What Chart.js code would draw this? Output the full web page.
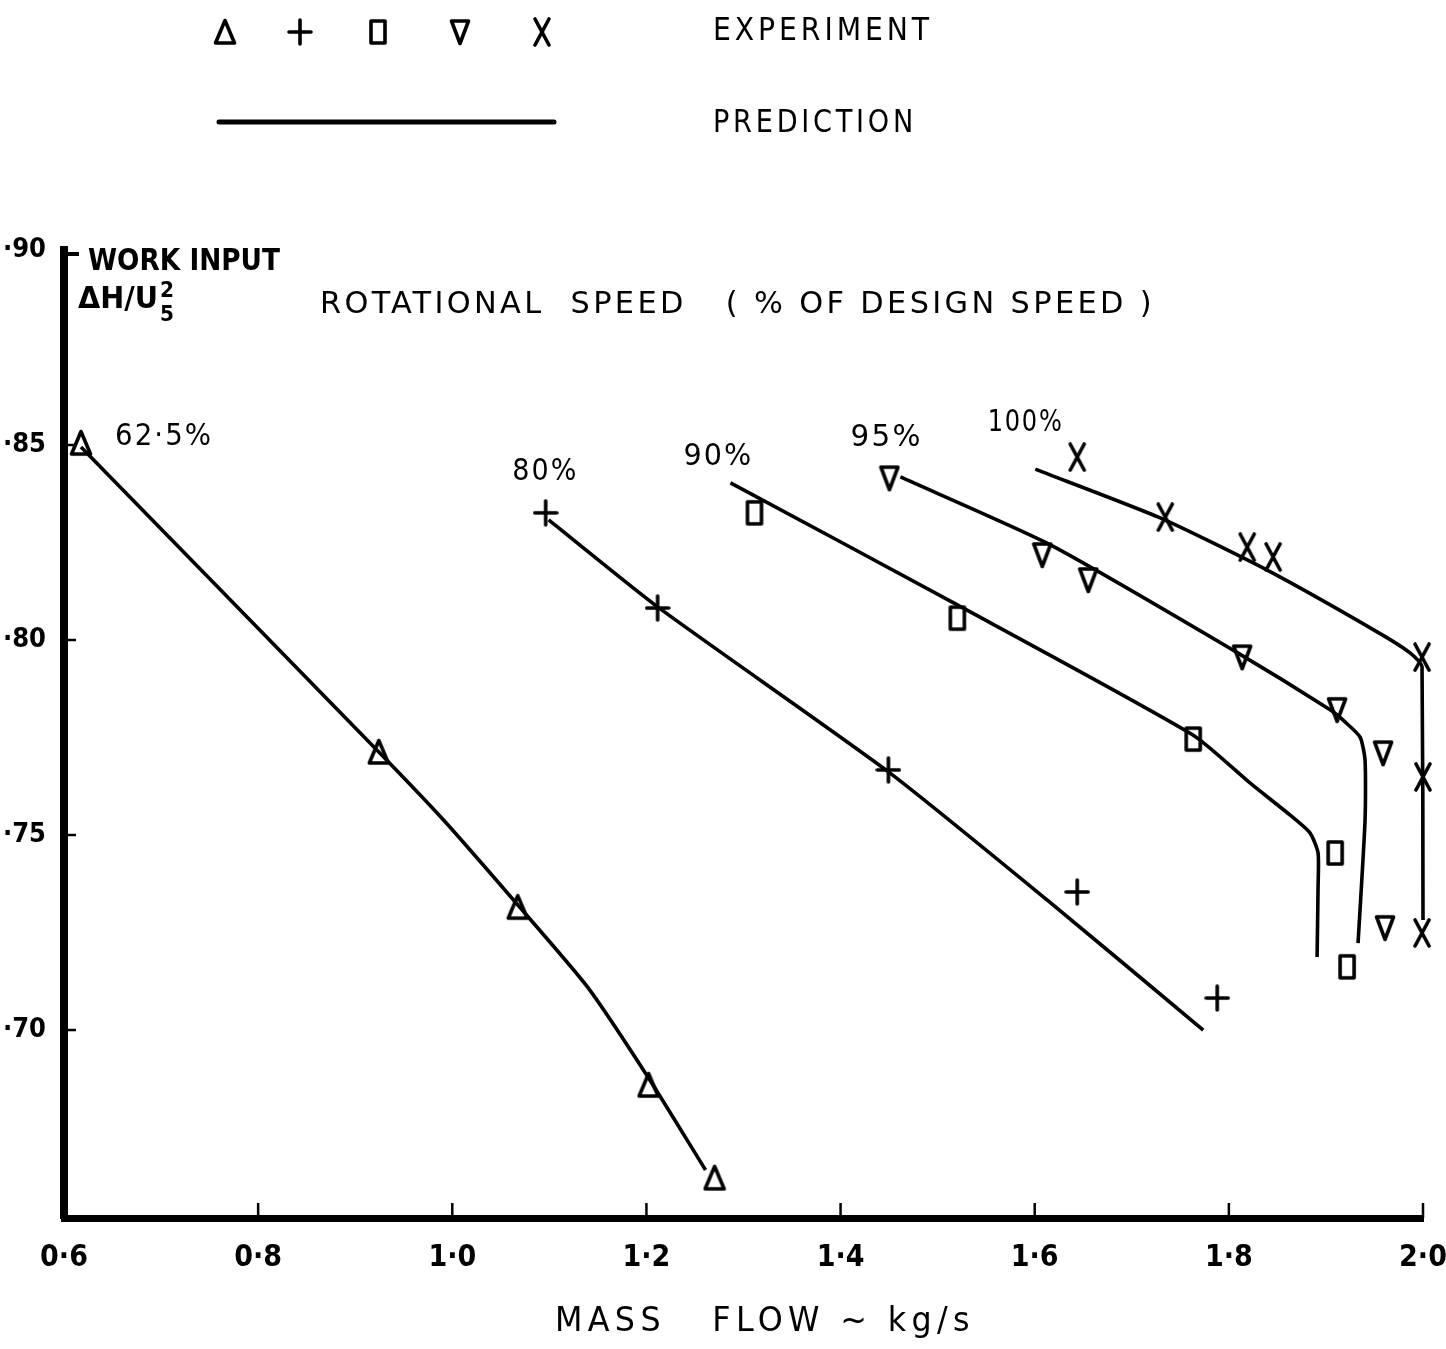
<!DOCTYPE html>
<html>
<head>
<meta charset="utf-8">
<script src="https://cdn.jsdelivr.net/npm/chart.js@4.4.1/dist/chart.umd.min.js"></script>
<style>
  body { margin: 0; background: #fff; }
  #c { display: block; }
</style>
</head>
<body>
<canvas id="c" width="1446" height="1349"></canvas>
<script>
// values (mass flow kg/s , work input dH/U5^2)
const speeds = ['62·5%', '80%', '90%', '95%', '100%']
const xTicks = [0.6, 0.8, 1.0, 1.2, 1.4, 1.6, 1.8, 2.0]
const yTicks = [0.70, 0.75, 0.80, 0.85, 0.90]

// experiment points
const exp62x = [0.6175, 0.9243, 1.0674, 1.2022, 1.2702]
const exp62y = [0.8505, 0.7713, 0.7315, 0.6859, 0.6621]
const exp80x = [1.0962, 1.2115, 1.4493, 1.6438, 1.7880]
const exp80y = [0.8326, 0.8082, 0.7667, 0.7354, 0.7082]
const exp90x = [1.3113, 1.5203, 1.7633, 1.9095, 1.9218]
const exp90y = [0.8326, 0.8056, 0.7746, 0.7454, 0.7162]
const exp95x = [1.4503, 1.6078, 1.6552, 1.8137, 1.9115, 1.9589, 1.9609]
const exp95y = [0.8415, 0.8218, 0.8154, 0.7956, 0.7821, 0.7710, 0.7262]
const exp100x = [1.6438, 1.7345, 1.8189, 1.8456, 1.9990, 2.0000, 1.9990]
const exp100y = [0.8469, 0.8315, 0.8238, 0.8213, 0.7956, 0.7649, 0.7249]

// prediction curves
const pred62x = [0.6175, 0.9243, 0.9912, 1.0674, 1.1394, 1.2022, 1.2609]
const pred62y = [0.8495, 0.7713, 0.7538, 0.7321, 0.7110, 0.6877, 0.6641]
const pred80x = [1.0993, 1.2115, 1.4493, 1.6130, 1.7736]
const pred80y = [0.8308, 0.8085, 0.7662, 0.7333, 0.7000]
const pred90x = [1.2866, 1.5203, 1.7633, 1.8220, 1.8631, 1.8837, 1.8919, 1.8919, 1.8909]
const pred90y = [0.8403, 0.8090, 0.7756, 0.7633, 0.7551, 0.7505, 0.7454, 0.7367, 0.7187]
const pred95x = [1.4616, 1.6161, 1.8044, 1.9043, 1.9197, 1.9352, 1.9403, 1.9403, 1.9331]
const pred95y = [0.8418, 0.8244, 0.7974, 0.7821, 0.7790, 0.7751, 0.7692, 0.7538, 0.7223]
const pred100x = [1.6006, 1.7293, 1.8395, 1.9527, 1.9867, 1.9990, 2.0000]
const pred100y = [0.8438, 0.8313, 0.8179, 0.8021, 0.7967, 0.7931, 0.7282]

// where the speed labels sit (data coords, left edge / middle)
const labelX = [0.6526, 1.0619, 1.2381, 1.4103, 1.5515]
const labelY = [0.8521, 0.8431, 0.8469, 0.8518, 0.8556]

const FONT = "'DejaVu Sans Condensed', 'Liberation Sans Narrow', 'DejaVu Sans', sans-serif"

function pts(xs, ys) { return xs.map((x, i) => ({ x: x, y: ys[i] })) }

// little hand drawn looking markers
function marker(kind) {
  let c = document.createElement('canvas')
  let sz = { up: [24, 28], down: [22, 28], plus: [26, 28], box: [20, 28], ex: [22, 30] }[kind]
  c.width = sz[0]; c.height = sz[1]
  let g = c.getContext('2d')
  g.strokeStyle = '#000'
  g.lineWidth = 3.6
  g.lineJoin = 'round'
  g.lineCap = 'round'
  g.beginPath()
  if (kind == 'up') { g.moveTo(12, 2.5); g.lineTo(21.5, 25); g.lineTo(2.5, 25); g.closePath() }
  if (kind == 'down') { g.moveTo(2.5, 3); g.lineTo(19.5, 3); g.lineTo(11, 25.5); g.closePath() }
  if (kind == 'plus') { g.moveTo(2, 14); g.lineTo(24, 14); g.moveTo(13, 2); g.lineTo(13, 26) }
  if (kind == 'box') { g.rect(3, 3, 14, 22) }
  if (kind == 'ex') { g.moveTo(4, 2); g.lineTo(11, 15); g.lineTo(4, 28); g.moveTo(18, 2); g.lineTo(11, 15); g.lineTo(18, 28) }
  g.stroke()
  return c
}
const marks = [marker('up'), marker('plus'), marker('box'), marker('down'), marker('ex')]

const expX = [exp62x, exp80x, exp90x, exp95x, exp100x]
const expY = [exp62y, exp80y, exp90y, exp95y, exp100y]
const predX = [pred62x, pred80x, pred90x, pred95x, pred100x]
const predY = [pred62y, pred80y, pred90y, pred95y, pred100y]

let datasets = []
speeds.forEach((s, i) => {
  datasets.push({
    label: 'prediction ' + s,
    data: pts(predX[i], predY[i]),
    showLine: true,
    borderColor: '#000',
    borderWidth: 3.6,
    tension: 0.2,
    pointRadius: 0,
    clip: false
  })
  datasets.push({
    label: 'experiment ' + s,
    data: pts(expX[i], expY[i]),
    showLine: false,
    pointStyle: marks[i],
    pointRadius: 10,
    clip: false
  })
})

function fitText(ctx, text, x, y, w, font, spacing) {
  ctx.font = font
  ctx.letterSpacing = (spacing || 0) + 'px'
  let m = ctx.measureText(text).width
  ctx.save()
  ctx.translate(x, y)
  ctx.scale(w / m, 1)
  ctx.fillText(text, 0, 0)
  ctx.restore()
  ctx.letterSpacing = '0px'
}

const decorations = {
  id: 'decorations',
  afterDraw(chart) {
    let ctx = chart.ctx
    let xs = chart.scales.x, ys = chart.scales.y
    let a = chart.chartArea
    ctx.save()
    ctx.fillStyle = '#000'
    ctx.strokeStyle = '#000'
    ctx.textBaseline = 'middle'
    ctx.textAlign = 'left'

    // hook at top of y axis
    ctx.lineWidth = 4
    ctx.beginPath()
    ctx.moveTo(a.left - 4, a.top + 4)
    ctx.lineTo(a.left + 15, a.top + 4)
    ctx.stroke()

    // inward ticks
    ctx.lineWidth = 2.5
    xTicks.slice(1).forEach(v => {
      let px = xs.getPixelForValue(v)
      ctx.beginPath(); ctx.moveTo(px, a.bottom); ctx.lineTo(px, a.bottom - 15); ctx.stroke()
    })
    yTicks.slice(0, 4).forEach(v => {
      let py = ys.getPixelForValue(v)
      ctx.beginPath(); ctx.moveTo(a.left, py); ctx.lineTo(a.left + 12, py); ctx.stroke()
    })

    // speed labels
    speeds.forEach((s, i) => {
      let w = [98, 66, 70, 72, 76][i]
      fitText(ctx, s, xs.getPixelForValue(labelX[i]), ys.getPixelForValue(labelY[i]), w, '30px ' + FONT, 2)
    })

    // axis captions
    fitText(ctx, 'WORK INPUT', 88, 262, 192, 'bold 31px ' + FONT)
    fitText(ctx, 'ΔH/U', 78, 300, 80, 'bold 30px ' + FONT)
    fitText(ctx, '2', 160, 292, 14, 'bold 21px ' + FONT)
    fitText(ctx, '5', 160, 316, 14, 'bold 21px ' + FONT)
    fitText(ctx, 'ROTATIONAL  SPEED   ( % OF DESIGN SPEED )', 320, 305, 835, '30px ' + FONT, 3)
    fitText(ctx, 'MASS   FLOW ~ kg/s', 555, 1322, 420, '33px ' + FONT, 5)

    // key at the top
    let kx = [225, 300, 378, 460, 542]
    marks.forEach((m, i) => ctx.drawImage(m, kx[i] - m.width / 2, 32 - m.height / 2))
    fitText(ctx, 'EXPERIMENT', 713, 32, 220, '32px ' + FONT, 4)
    ctx.lineWidth = 5
    ctx.lineCap = 'round'
    ctx.beginPath(); ctx.moveTo(219, 122); ctx.lineTo(554, 122); ctx.stroke()
    fitText(ctx, 'PREDICTION', 713, 124, 204, '32px ' + FONT, 4)
    ctx.restore()
  }
}

new Chart(document.getElementById('c'), {
  type: 'scatter',
  data: { datasets: datasets },
  plugins: [decorations],
  options: {
    responsive: false,
    devicePixelRatio: 1,
    animation: false,
    layout: { padding: { top: 250, right: 23, left: 0, bottom: 0 } },
    plugins: { legend: { display: false }, tooltip: { enabled: false } },
    scales: {
      x: {
        type: 'linear',
        min: 0.6, max: 2.0,
        afterFit: s => { s.height = 131; s.paddingLeft = 0; s.paddingRight = 0 },
        afterBuildTicks: s => { s.ticks = xTicks.map(v => ({ value: v })) },
        grid: { display: false },
        border: { display: true, color: '#000', width: 7 },
        ticks: {
          color: '#000',
          padding: 14,
          maxRotation: 0,
          font: { family: FONT, size: 30, weight: 'bold' },
          callback: v => v.toFixed(1).replace('.', '·')
        }
      },
      y: {
        type: 'linear',
        min: 0.6518, max: 0.90,
        afterFit: s => { s.width = 64; s.paddingTop = 0; s.paddingBottom = 0 },
        afterBuildTicks: s => { s.ticks = yTicks.map(v => ({ value: v })) },
        grid: { display: false },
        border: { display: true, color: '#000', width: 8 },
        ticks: {
          color: '#000',
          padding: 10,
          font: { family: FONT, size: 27, weight: 'bold' },
          callback: v => '·' + Math.round(v * 100)
        }
      }
    }
  }
})
</script>
</body>
</html>
